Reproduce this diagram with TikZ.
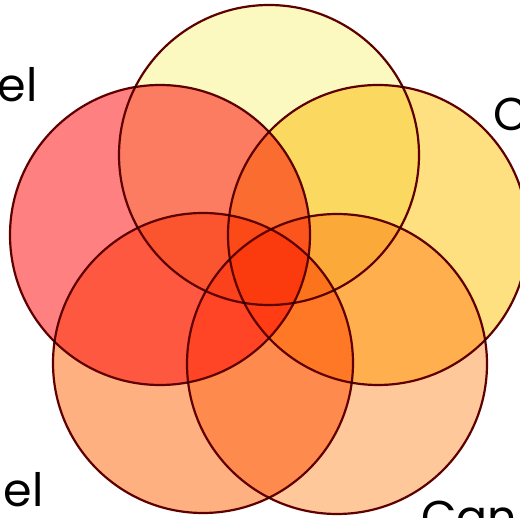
\documentclass[tikz,border=0pt]{standalone}
\usepackage{fontspec}
\setmainfont{Poppins}
\begin{document}
\begin{tikzpicture}[x=1pt,y=-1pt,
  venn/.style={circle, minimum size=300pt, inner sep=0pt, draw=edge, line width=2.2pt},
  lbl/.style={font=\fontsize{46}{46}\selectfont, inner sep=0pt, text=black}]
\useasboundingbox (0,0) rectangle (520,518);
\definecolor{cTop}{RGB}{251,248,192}
\definecolor{cLeft}{RGB}{255,128,128}
\definecolor{cRight}{RGB}{255,224,128}
\definecolor{cBL}{RGB}{255,176,128}
\definecolor{cBR}{RGB}{255,200,154}
\definecolor{edge}{RGB}{95,0,0}
\begin{scope}
\clip (0,0) rectangle (520,518);
\begin{scope}[blend group=multiply]
\node[venn, fill=cTop] (top) at (269,155) {};
\node[venn, fill=cLeft] (left) at (160,235) {};
\node[venn, fill=cRight] (right) at (378,235) {};
\node[venn, fill=cBL] (bl) at (203,363) {};
\node[venn, fill=cBR] (br) at (337,364) {};
\end{scope}
\node[lbl, anchor=base east] (t1) at (38,102) {el};
\node[lbl, anchor=base west] (t2) at (493,131) {C};
\node[lbl, anchor=base east] (t3) at (44,507) {el};
\node[lbl, anchor=base west] (t4) at (421,534) {Can};
\end{scope}
\end{tikzpicture}
\end{document}
